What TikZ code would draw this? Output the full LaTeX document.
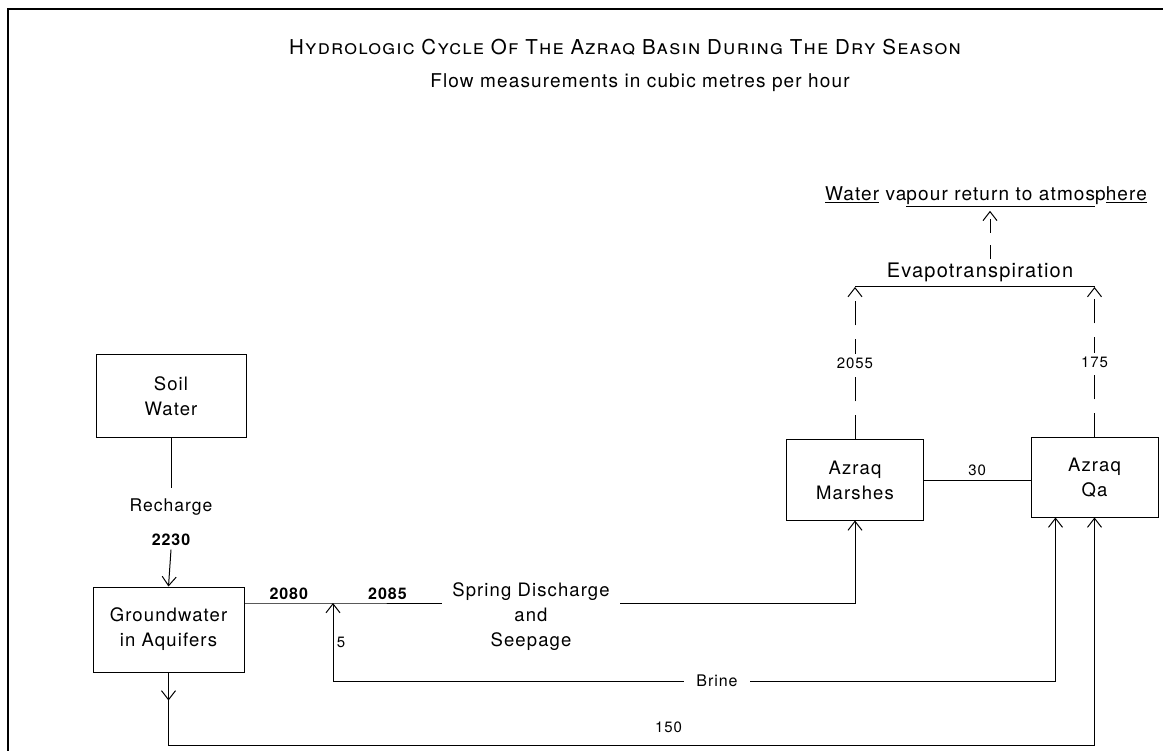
\documentclass[tikz,border=0pt]{standalone}
\usepackage{fontspec}
\setmainfont{TeX Gyre Heros}[LetterSpace=6]
\usetikzlibrary{arrows.meta}

\begin{document}
\begin{tikzpicture}[x=1pt,y=-1pt,line width=1pt,
  box/.style={draw,align=center,font=\fontsize{18.5}{25}\selectfont},
  tip/.style={-{Straight Barb[length=9pt,width=14pt]}},
  gaps/.style={dash pattern=on 24pt off 14pt},
  lbl/.style={font=\fontsize{15}{17}\selectfont},
  num/.style={font=\fontsize{16}{18}\selectfont\bfseries},
  txt/.style={font=\fontsize{19}{25}\selectfont,align=center}]
\useasboundingbox (0,0) rectangle (1163,751);
\draw[line width=1.5pt] (8,751) -- (8,9) -- (1163,9);
\node[font=\fontsize{20.5}{22}\selectfont\scshape] (title) at (625,47) {Hydrologic Cycle Of The Azraq Basin During The Dry Season};
\node[txt] (sub) at (640,83) {Flow measurements in cubic metres per hour};
\node[box,minimum width=150,minimum height=83] (soil) at (171,396.5) {Soil\\Water};
\node[box,minimum width=151,minimum height=85] (gw) at (168.5,629.5) {Groundwater\\in Aquifers};
\node[box,minimum width=137,minimum height=80] (marsh) at (855,480) {Azraq\\Marshes};
\node[box,minimum width=127,minimum height=79] (qa) at (1094.5,477.5) {Azraq\\Qa};
\node[txt,font=\fontsize{17.5}{20}\selectfont,inner sep=10pt] (rech) at (171,507) {Recharge};
\node[num] (r2230) at (171,540) {2230};
\draw (soil.south) -- (rech.north);
\draw[tip] (r2230.south) -- (gw.north);
\coordinate (jn) at (333,603);
\coordinate (bot) at (0,745);
\coordinate (ev) at (0,287);
\node[txt,font=\fontsize{18.5}{25}\selectfont,inner xsep=10pt,inner ysep=0pt] (spring) at (531,617) {Spring Discharge\\and\\Seepage};
\draw (gw.east |- jn) -- node[pos=0.5,above,num] {2080} (jn) -- node[pos=0.5,above,num] {2085} (jn -| spring.west);
\draw[tip] (spring.east |- jn) -| (marsh.south);
\node[txt,font=\fontsize{16}{20}\selectfont,inner xsep=12pt] (brine) at (717,681) {Brine};
\draw[tip] (brine.west) -| node[pos=0.75,right,lbl] {5} (jn);
\draw[tip] (brine.east) -| ([xshift=25pt]qa.south west);
\draw[tip] (gw.south) -- ++(0,28);
\draw[tip] (gw.south) -- (gw.south |- bot) -| node[pos=0.27,above=8pt,lbl] {150} (qa.south);
\draw (marsh.east) -- node[above,lbl] {30} (marsh.east -| qa.west);
\node[txt,font=\fontsize{20}{22}\selectfont] (evap) at (980,272) {Evapotranspiration};
\draw[tip,gaps] (marsh.north) -- node[fill=white,lbl] {2055} (marsh.north |- ev);
\draw[tip,gaps] (qa.north) -- node[fill=white,lbl] {175} (qa.north |- ev);
\draw (marsh.north |- ev) -- (qa.north |- ev);
\node[txt] (vap) at (986,197) {\underline{Water}~va\underline{pour return to atmos}p\underline{here}};
\draw[tip,dash pattern=on 14pt off 12pt] ([xshift=10pt]evap.north) -- ([xshift=10pt]evap.north |- vap.south);
\end{tikzpicture}
\end{document}
